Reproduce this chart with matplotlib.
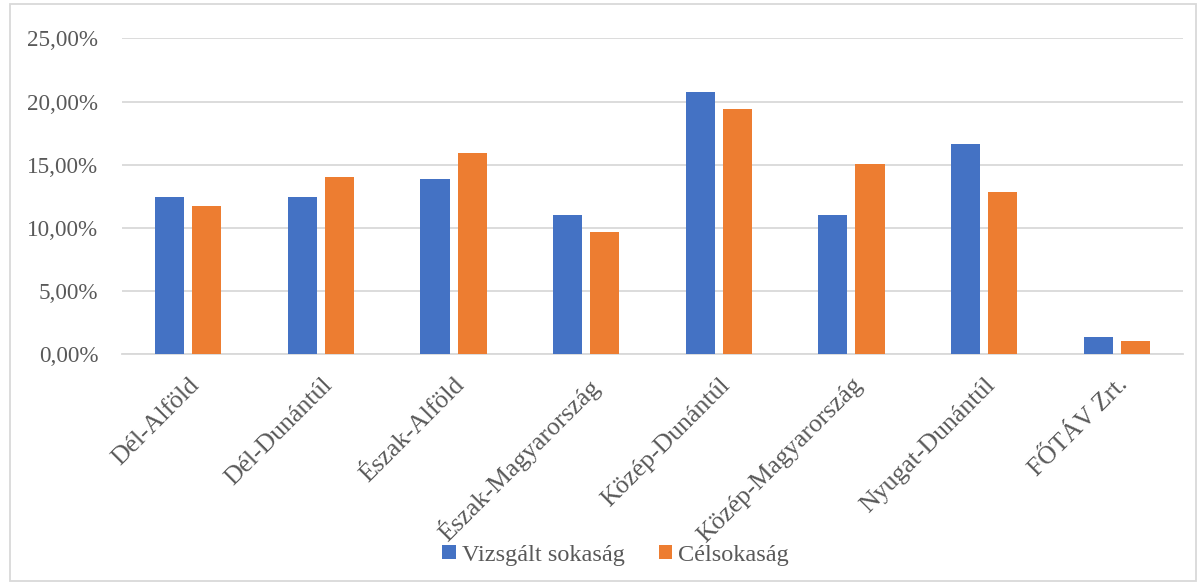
import numpy as np
import matplotlib.pyplot as plt
from matplotlib.patches import Rectangle
from matplotlib.ticker import FuncFormatter

regiok = ['Dél-Alföld', 'Dél-Dunántúl', 'Észak-Alföld', 'Észak-Magyarország',
          'Közép-Dunántúl', 'Közép-Magyarország', 'Nyugat-Dunántúl', 'FŐTÁV Zrt.']
vizsgalt = [12.45, 12.45, 13.87, 11.05, 20.78, 11.05, 16.66, 1.37]
celsokasag = [11.76, 14.00, 15.95, 9.68, 19.38, 15.08, 12.87, 1.05]

plt.rcParams['font.family'] = ['Liberation Serif', 'DejaVu Serif']
szurke = '#595959'
racs = '#D9D9D9'

fig = plt.figure(figsize=(12.01, 5.83), dpi=100)
ax = fig.add_axes([0.1016, 0.3923, 0.8834, 0.542])

x = np.arange(len(regiok))
w = 0.22
ax.bar(x - 0.14, vizsgalt, w, color='#4472C4', label='Vizsgált sokaság', zorder=3)
ax.bar(x + 0.14, celsokasag, w, color='#ED7D31', label='Célsokaság', zorder=3)

ax.set_xlim(-0.5, len(regiok) - 0.5)
ax.set_ylim(0, 25)
ax.set_yticks(np.arange(0, 26, 5))
ax.yaxis.set_major_formatter(FuncFormatter(lambda v, p: f'{v:.2f}%'.replace('.', ',')))
ax.grid(axis='y', color=racs, linewidth=1.3, zorder=0)
for s in ['top', 'right', 'left']:
    ax.spines[s].set_visible(False)
ax.spines['bottom'].set_color(racs)
ax.spines['bottom'].set_linewidth(1.3)
ax.tick_params(axis='both', length=0, colors=szurke)
ax.tick_params(axis='y', labelsize=16.7, pad=17)

ax.set_xticks(x)
ax.set_xticklabels(regiok, rotation=45, ha='right', va='top', rotation_mode='anchor',
                   fontsize=18.5, color=szurke)
ax.tick_params(axis='x', pad=14)

fig.legend(loc='center', bbox_to_anchor=(0.5125, 0.048), ncol=2, frameon=False,
           fontsize=17.5, labelcolor=szurke, handlelength=0.55, handleheight=0.55,
           handletextpad=0.25, columnspacing=1.4)

fig.patches.append(Rectangle((0.008, 0.003), 0.988, 0.99, transform=fig.transFigure,
                             fill=False, edgecolor=racs, linewidth=1.3))

fig.savefig('out.png', dpi=100)
